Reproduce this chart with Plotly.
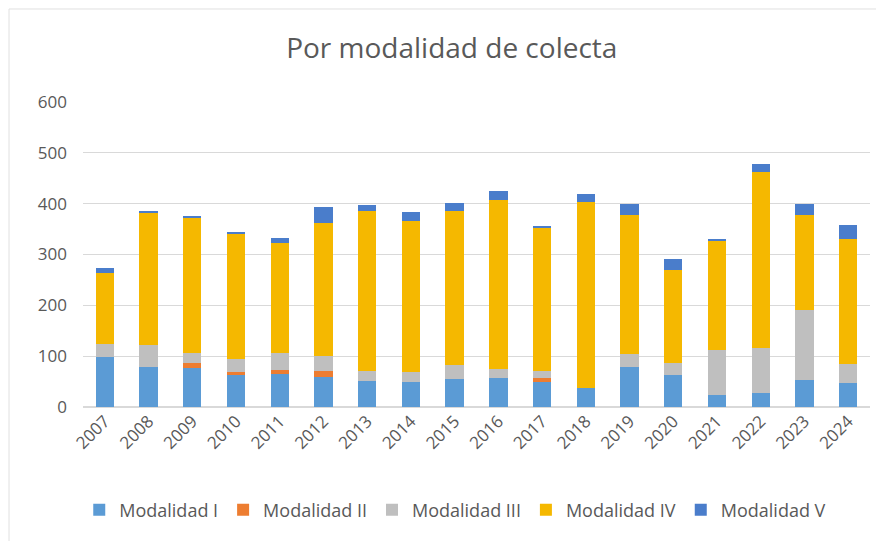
import plotly.graph_objects as go

years = ["2007", "2008", "2009", "2010", "2011", "2012", "2013", "2014", "2015",
         "2016", "2017", "2018", "2019", "2020", "2021", "2022", "2023", "2024"]
mod_i = [99, 78, 77, 63, 65, 59, 52, 49, 56, 57, 49, 37, 78, 62, 23, 28, 54, 48]
mod_ii = [0, 0, 10, 5, 8, 11, 0, 0, 0, 0, 8, 0, 0, 0, 0, 0, 0, 0]
mod_iii = [24, 43, 19, 27, 33, 30, 18, 20, 27, 18, 14, 0, 26, 25, 90, 88, 137, 37]
mod_iv = [141, 260, 267, 247, 216, 262, 315, 297, 302, 333, 282, 367, 274, 182, 215, 347, 186, 246]
mod_v = [10, 4, 3, 2, 11, 32, 12, 17, 17, 17, 4, 16, 21, 22, 2, 16, 22, 28]

series_names = ["Modalidad I", "Modalidad II", "Modalidad III", "Modalidad IV", "Modalidad V"]
series_vals = [mod_i, mod_ii, mod_iii, mod_iv, mod_v]
colors = ["#5B9BD5", "#ED7D31", "#BFBFBF", "#F5B800", "#4A7DCB"]

y_ticks = [0, 100, 200, 300, 400, 500, 600]

fig = go.Figure()
for name, vals, col in zip(series_names, series_vals, colors):
    fig.add_trace(go.Bar(x=years, y=vals, name=name, marker_color=col,
                         marker_line_width=0))

font_family = "'Open Sans', sans-serif"
fig.update_layout(
    barmode="stack",
    bargap=0.58,
    width=884, height=541,
    margin=dict(l=75, r=22, t=94, b=142),
    paper_bgcolor="white",
    plot_bgcolor="white",
    title=dict(text="Por modalidad de colecta", xref="container", x=0.502,
               xanchor="center", yref="container", y=0.926, yanchor="middle",
               font=dict(family=font_family, size=28, color="#595959")),
    font=dict(family=font_family, size=17, color="#595959"),
    xaxis=dict(tickangle=-45, showgrid=False, showline=False, ticks="",
               tickfont=dict(size=17, color="#595959")),
    yaxis=dict(range=[0, 600], tickvals=y_ticks, showgrid=True,
               gridcolor="#D9D9D9", gridwidth=1, zeroline=True,
               zerolinecolor="#D9D9D9", ticks="", ticklen=0,
               ticklabelstandoff=15,
               tickfont=dict(size=17, color="#595959")),
    legend=dict(orientation="h", x=0.473, xanchor="center", y=-0.338,
                yanchor="middle", font=dict(size=18, color="#595959"),
                traceorder="normal", itemwidth=30),
    shapes=[dict(type="rect", xref="paper", yref="paper", x0=-0.094, x1=1.2,
                 y0=-1.0, y1=1.305, line=dict(color="#E0E0E0", width=1))],
)

fig.write_html("out.html")
